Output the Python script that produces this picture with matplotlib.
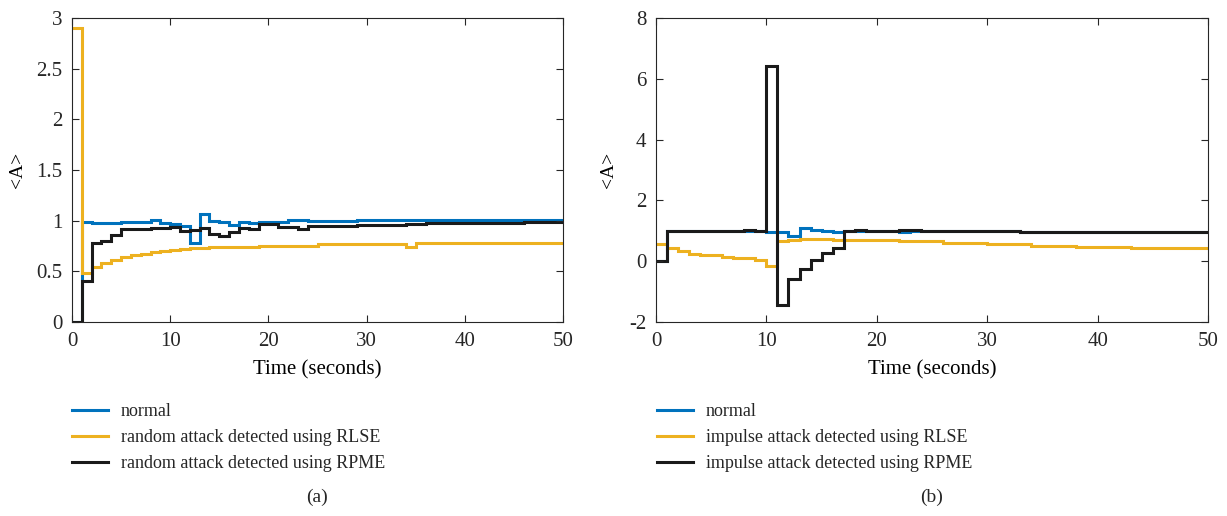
import numpy as np
import matplotlib
matplotlib.use("Agg")
import matplotlib.pyplot as plt
from matplotlib.ticker import FuncFormatter

# one value per second, t = 0 .. 49 (stairs up to t = 50)
edges = np.arange(51)

# (a) random attack
normal_a = [0.0, 0.99, 0.975, 0.975, 0.975, 0.99, 0.99, 0.99, 1.005, 0.98,
            0.965, 0.95, 0.78, 1.066, 0.995, 0.99, 0.957, 0.99, 0.98, 0.99,
            0.99, 0.99, 1.01, 1.01, 1.0, 1.0, 1.0, 1.0, 1.0, 1.005,
            1.005, 1.005, 1.005, 1.005, 1.005, 1.005, 1.01, 1.01, 1.01, 1.01,
            1.01, 1.01, 1.01, 1.01, 1.01, 1.01, 1.01, 1.01, 1.01, 1.01]
rlse_a = [2.9, 0.487, 0.546, 0.58, 0.61, 0.64, 0.66, 0.675, 0.69, 0.705,
          0.715, 0.72, 0.73, 0.735, 0.74, 0.74, 0.74, 0.74, 0.74, 0.753,
          0.753, 0.753, 0.753, 0.753, 0.753, 0.767, 0.767, 0.767, 0.767, 0.767,
          0.767, 0.767, 0.767, 0.767, 0.745, 0.78, 0.78, 0.78, 0.78, 0.78,
          0.78, 0.78, 0.78, 0.78, 0.78, 0.78, 0.78, 0.78, 0.78, 0.78]
rpme_a = [0.0, 0.40, 0.777, 0.80, 0.86, 0.915, 0.915, 0.915, 0.93, 0.93,
          0.94, 0.90, 0.905, 0.93, 0.866, 0.85, 0.886, 0.925, 0.92, 0.967,
          0.97, 0.94, 0.94, 0.915, 0.945, 0.945, 0.945, 0.945, 0.945, 0.955,
          0.955, 0.955, 0.955, 0.955, 0.97, 0.97, 0.975, 0.975, 0.975, 0.975,
          0.975, 0.975, 0.975, 0.975, 0.975, 0.975, 0.99, 0.99, 0.99, 0.99]

# (b) impulse attack
normal_b = [0.0, 1.0, 1.0, 1.0, 1.0, 1.0, 1.0, 1.0, 1.0, 1.0,
            0.96, 0.96, 0.82, 1.08, 1.03, 0.98, 0.95, 1.0, 1.0, 1.0,
            1.0, 1.0, 0.97, 1.0, 1.0, 1.0, 1.0, 1.0, 1.0, 1.0,
            1.0, 1.0, 1.0, 0.97, 0.97, 0.97, 0.97, 0.97, 0.97, 0.97,
            0.97, 0.97, 0.97, 0.97, 0.97, 0.97, 0.97, 0.97, 0.97, 0.97]
rlse_b = [0.56, 0.42, 0.34, 0.25, 0.2, 0.2, 0.14, 0.12, 0.09, 0.05,
          -0.15, 0.67, 0.71, 0.74, 0.74, 0.74, 0.71, 0.71, 0.71, 0.71,
          0.71, 0.71, 0.67, 0.67, 0.67, 0.67, 0.61, 0.61, 0.61, 0.61,
          0.57, 0.57, 0.57, 0.57, 0.5, 0.5, 0.5, 0.5, 0.47, 0.47,
          0.47, 0.47, 0.47, 0.43, 0.43, 0.43, 0.43, 0.43, 0.43, 0.43]
rpme_b = [0.0, 1.0, 1.0, 1.0, 1.0, 1.0, 1.0, 1.0, 1.04, 1.0,
          6.43, -1.45, -0.57, -0.27, 0.05, 0.27, 0.42, 1.0, 1.04, 1.0,
          1.0, 1.0, 1.04, 1.04, 1.0, 1.0, 1.0, 1.0, 1.0, 1.0,
          1.0, 1.0, 1.0, 0.97, 0.97, 0.97, 0.97, 0.97, 0.97, 0.97,
          0.97, 0.97, 0.97, 0.97, 0.97, 0.97, 0.97, 0.97, 0.97, 0.97]

labels_a = ["normal", "random attack detected using RLSE", "random attack detected using RPME"]
labels_b = ["normal", "impulse attack detected using RLSE", "impulse attack detected using RPME"]
colors = ["#0072BD", "#EDB120", "#1a1a1a"]

plt.rcParams['font.family'] = ['Liberation Serif', 'DejaVu Serif']
plt.rcParams['font.size'] = 15
plt.rcParams['axes.edgecolor'] = '#262626'
plt.rcParams['xtick.color'] = '#262626'
plt.rcParams['ytick.color'] = '#262626'
plt.rcParams['text.color'] = '#262626'

fig = plt.figure(figsize=(12.27, 5.16), dpi=100)
ax1 = fig.add_axes([72 / 1227, 194 / 516, 491 / 1227, 304 / 516])
ax2 = fig.add_axes([656 / 1227, 194 / 516, 552 / 1227, 304 / 516])

panels = [
    (ax1, [normal_a, rlse_a, rpme_a], labels_a, (0, 3), np.arange(0, 3.01, 0.5), 26, 72, "(a)", 317),
    (ax2, [normal_b, rlse_b, rpme_b], labels_b, (-2, 8), np.arange(-2, 8.01, 2), 617, 657, "(b)", 932),
]

for ax, series, labels, ylim, yticks, ylab_x, leg_x, cap, cap_x in panels:
    for vals, c, lab in zip(series, colors, labels):
        ax.stairs(vals, edges, baseline=None, color=c, lw=2.2, label=lab)
    ax.set_xlim(0, 50)
    ax.set_ylim(*ylim)
    ax.set_xticks(np.arange(0, 51, 10))
    ax.set_yticks(yticks)
    ax.yaxis.set_major_formatter(FuncFormatter(lambda v, p: '%g' % v))
    ax.tick_params(direction='in', top=True, right=True, length=5, width=0.8,
                   pad=7, labelsize=15)
    for s in ax.spines.values():
        s.set_linewidth(0.8)
    ax.set_xlabel("Time (seconds)", labelpad=7, fontsize=15)
    ax.set_ylabel("<A>", fontsize=14)
    pos = ax.get_position()
    ax.yaxis.set_label_coords((ylab_x - pos.x0 * 1227) / (pos.width * 1227), 0.5)
    h, l = ax.get_legend_handles_labels()
    fig.legend(h, l, loc='upper left', bbox_to_anchor=(leg_x / 1227, 1 - 403 / 516),
               frameon=False, borderpad=0, borderaxespad=0, handlelength=2.0,
               handletextpad=0.7, labelspacing=0.5, prop={'size': 13})
    fig.text(cap_x / 1227, 1 - 497 / 516, cap, ha='center', va='center', fontsize=14)

fig.savefig("out.png", dpi=100)
